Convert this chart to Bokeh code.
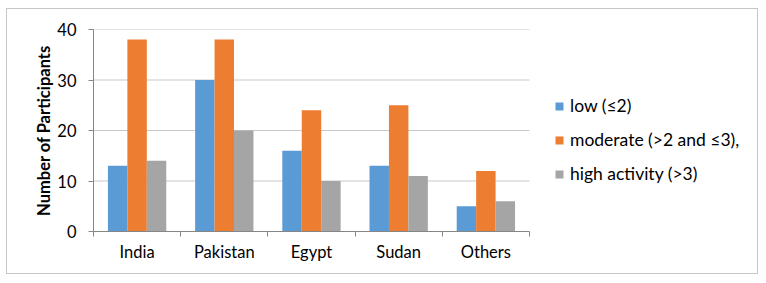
from bokeh.plotting import figure
from bokeh.models import FixedTicker, Legend, LegendItem, Range1d
from bokeh.transform import dodge
from bokeh.embed import file_html
from bokeh.resources import INLINE

countries = ["India", "Pakistan", "Egypt", "Sudan", "Others"]
low = [13, 30, 16, 13, 5]
moderate = [38, 38, 24, 25, 12]
high = [14, 20, 10, 11, 6]
series_names = ["low (\u22642)", "moderate (>2 and \u22643),", "high activity (>3)"]
colors = ["#5B9BD5", "#ED7D31", "#A5A5A5"]
y_ticks = [0, 10, 20, 30, 40]

FONT = "Lato"
n = len(countries)
centers = [i + 0.5 for i in range(n)]
data = dict(x=centers, low=low, moderate=moderate, high=high)

# frame spans the full width; the category area occupies the left part,
# the legend sits in the blank space to the right
x_end = n * 663 / 434
p = figure(width=752, height=266, output_backend="svg", toolbar_location=None,
           x_range=Range1d(0, x_end), y_range=Range1d(0, 40))
p.margin = (8, 0, 0, 6)
p.styles = {"border": "1px solid #c6c6c6", "box-sizing": "border-box"}
p.min_border_left = 86
p.min_border_top = 20
p.min_border_bottom = 44
p.min_border_right = 0
p.outline_line_color = None
p.background_fill_color = "white"
p.border_fill_color = "white"

p.xgrid.grid_line_color = None
p.ygrid.grid_line_color = None
grid_vals = y_ticks[1:]
p.segment(x0=[0] * len(grid_vals), x1=[n] * len(grid_vals), y0=grid_vals, y1=grid_vals,
          line_color="#c8c8c8", line_width=1)

bw = 0.223
renderers = []
for key, off, col in zip(["low", "moderate", "high"], [-bw, 0, bw], colors):
    r = p.vbar(x=dodge("x", off), top=key, width=bw, source=data, color=col, line_color=None)
    renderers.append(r)

xa = p.xaxis[0]
xa.bounds = (0, n)
xa.ticker = FixedTicker(ticks=centers, minor_ticks=list(range(n + 1)))
xa.major_label_overrides = {c: nm for c, nm in zip(centers, countries)}
xa.major_tick_out = 0
xa.major_tick_in = 0
xa.minor_tick_out = 5
xa.minor_tick_in = 0
xa.minor_tick_line_color = "#868686"
xa.axis_line_color = "#868686"
xa.major_label_text_font = FONT
xa.major_label_text_font_size = "16.5px"
xa.major_label_text_color = "#000000"
xa.major_label_standoff = 5

ya = p.yaxis[0]
ya.ticker = FixedTicker(ticks=y_ticks)
ya.axis_line_color = "#868686"
ya.major_tick_line_color = "#868686"
ya.major_tick_out = 5
ya.major_tick_in = 0
ya.minor_tick_line_color = None
ya.major_label_text_font = FONT
ya.major_label_text_font_size = "16.5px"
ya.major_label_text_color = "#000000"
ya.major_label_standoff = 12
ya.axis_label = "Number of Participants"
ya.axis_label_text_font = FONT
ya.axis_label_text_font_size = "16.5px"
ya.axis_label_text_font_style = "bold"
ya.axis_label_text_color = "#000000"
ya.axis_label_standoff = 0

legend = Legend(items=[LegendItem(label=nm, renderers=[r]) for nm, r in zip(series_names, renderers)],
                location=(461, 47), border_line_color=None, background_fill_alpha=0,
                glyph_width=10, glyph_height=10, label_text_font=FONT,
                label_text_font_size="17.5px", label_text_color="#000000",
                spacing=13, padding=0, margin=0, label_standoff=6)
p.add_layout(legend, "center")

open("out.html", "w").write(file_html(p, INLINE))
